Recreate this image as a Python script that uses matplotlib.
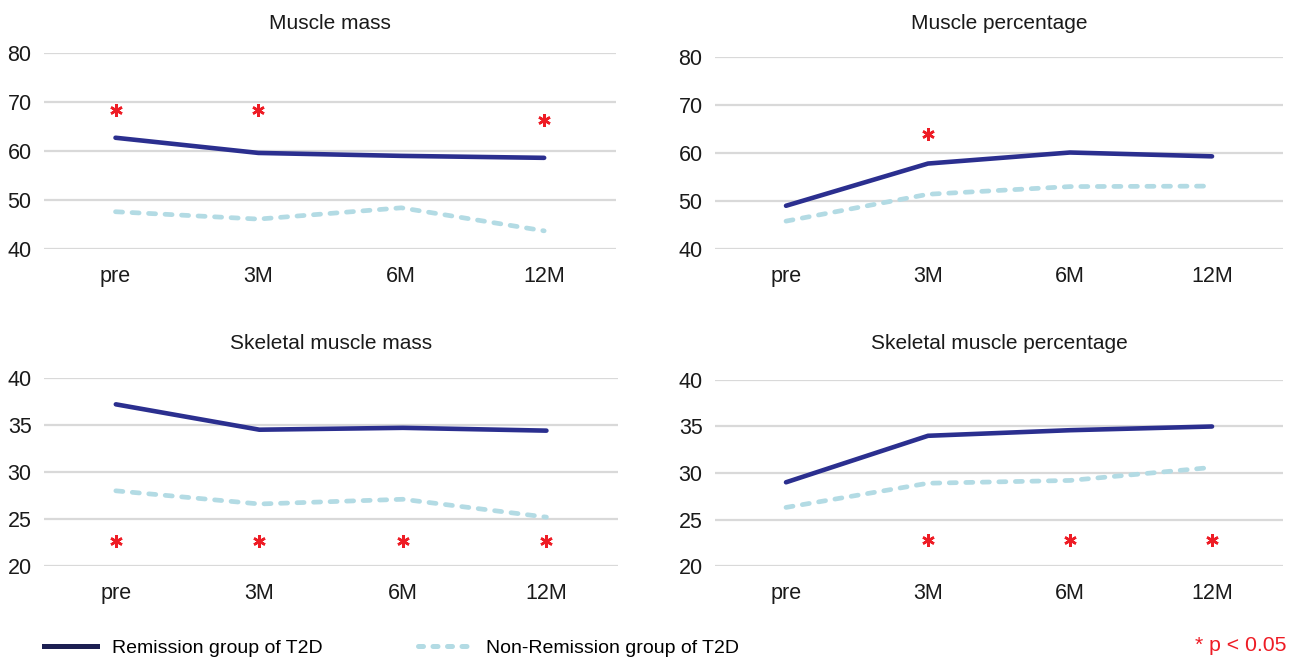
import matplotlib.pyplot as plt
from matplotlib.lines import Line2D

plt.rcParams['font.family'] = ['Liberation Sans', 'DejaVu Sans']

# datos
periodos = ["pre", "3M", "6M", "12M"]

titulos = ["Muscle mass", "Muscle percentage",
           "Skeletal muscle mass", "Skeletal muscle percentage"]

remision_mm = [62.7, 59.6, 59.0, 58.6]
no_remision_mm = [47.6, 46.1, 48.4, 43.7]
estrellas_mm = [68.4, 68.4, None, 66.3]

remision_mp = [49.0, 57.8, 60.1, 59.3]
no_remision_mp = [45.8, 51.4, 53.0, 53.1]
estrellas_mp = [None, 64.0, None, None]

remision_smm = [37.2, 34.5, 34.7, 34.4]
no_remision_smm = [28.0, 26.6, 27.1, 25.2]
estrellas_smm = [22.7, 22.7, 22.7, 22.7]

remision_smp = [29.0, 34.0, 34.6, 35.0]
no_remision_smp = [26.3, 28.9, 29.2, 30.6]
estrellas_smp = [None, 22.8, 22.8, 22.8]

rangos_y = [(40, 80), (40, 80), (20, 40), (20, 40)]
ticks_y = [[40, 50, 60, 70, 80], [40, 50, 60, 70, 80],
           [20, 25, 30, 35, 40], [20, 25, 30, 35, 40]]

azul = "#2b2f8f"
azul_leyenda = "#1c1f52"
celeste = "#b3dbe4"
rojo = "#ee1c25"

fig = plt.figure(figsize=(12.96, 6.59), dpi=100)

# posiciones de cada panel (left, bottom, width, height)
posiciones = [
    [0.034, 0.6222, 0.441, 0.2974],
    [0.5517, 0.6222, 0.4383, 0.2913],
    [0.034, 0.1411, 0.443, 0.2853],
    [0.5517, 0.1411, 0.4383, 0.2823],
]
pads_titulo = [17, 20, 21, 22]

series = [
    (remision_mm, no_remision_mm, estrellas_mm),
    (remision_mp, no_remision_mp, estrellas_mp),
    (remision_smm, no_remision_smm, estrellas_smm),
    (remision_smp, no_remision_smp, estrellas_smp),
]

for i in range(4):
    ax = fig.add_axes(posiciones[i])
    rem, norem, est = series[i]
    x = list(range(len(periodos)))
    ax.plot(x, norem, color=celeste, lw=3.4, linestyle=(0, (1.5, 2.0)),
            dash_capstyle='round', zorder=3, clip_on=False)
    ax.plot(x, rem, color=azul, lw=3.3, solid_capstyle='round',
            solid_joinstyle='round', zorder=4, clip_on=False)
    # asteriscos de significancia
    xs = [j for j, v in enumerate(est) if v is not None]
    ys = [v for v in est if v is not None]
    ax.plot(xs, ys, linestyle='none', marker=(6, 2, 0), markersize=9,
            markeredgewidth=1.8, color=rojo, zorder=5, clip_on=False)
    ax.set_xlim(-0.5, 3.5)
    ax.set_ylim(*rangos_y[i])
    ax.set_yticks(ticks_y[i])
    ax.set_xticks(x)
    ax.set_xticklabels(periodos)
    ax.grid(axis='y', color='#d9d9d9', linewidth=1.6)
    ax.set_axisbelow(True)
    for s in ax.spines.values():
        s.set_visible(False)
    ax.tick_params(length=0, labelsize=15.5, colors='#1a1a1a')
    ax.tick_params(axis='x', pad=12)
    ax.tick_params(axis='y', pad=9)
    ax.set_title(titulos[i], fontsize=15, pad=pads_titulo[i], color='#1a1a1a')

# leyenda
handles = [
    Line2D([], [], color=azul_leyenda, lw=3.6),
    Line2D([], [], color=celeste, lw=3.6, linestyle=(0, (1.0, 1.9)),
           dash_capstyle='round'),
]
fig.legend(handles, ["Remission group of T2D", "Non-Remission group of T2D"],
           loc='lower left', bbox_to_anchor=(0.034, 0.003), ncol=2,
           frameon=False, fontsize=14, handlelength=2.7, handletextpad=0.8,
           columnspacing=4.9, borderpad=0, borderaxespad=0)
fig.text(0.993, 0.021, "* p < 0.05", color=rojo, fontsize=15.3, ha='right',
         va='center')

fig.savefig("out.png", dpi=100)
